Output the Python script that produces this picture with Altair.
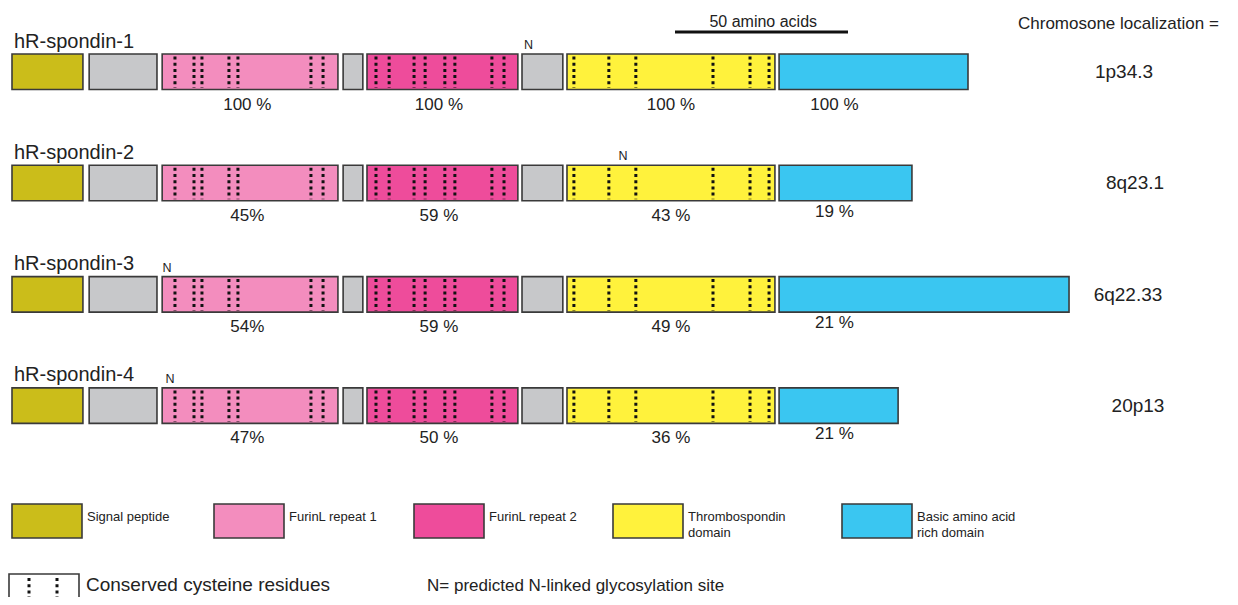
import altair as alt
import pandas as pd

# ---------------- data ----------------
PROTEINS = ["hR-spondin-1", "hR-spondin-2", "hR-spondin-3", "hR-spondin-4"]
CHROMOSOMES = ["1p34.3", "8q23.1", "6q22.33", "20p13"]

DOMAIN_TYPES = ["signal", "linker", "furin1", "linker", "furin2", "linker", "tsp", "basic"]
DOMAIN_START_AA = [0.0, 22.3, 43.4, 95.7, 102.6, 147.4, 160.4, 221.7]
DOMAIN_END_AA = [20.5, 41.9, 94.2, 101.4, 146.2, 159.2, 220.5]   # basic domain end is per protein
BASIC_END_AA = [276.3, 260.1, 305.5, 256.1]

CYS_FURIN1_AA = [47.1, 52.6, 54.9, 62.7, 65.3, 86.4, 89.9]
CYS_FURIN2_AA = [105.2, 109.0, 116.2, 119.4, 125.1, 128.0, 138.7, 142.2]
CYS_TSP_AA = [162.4, 172.5, 180.3, 202.6, 213.3, 218.8]

PCT_FURIN1 = ["100 %", "45%", "54%", "47%"]
PCT_FURIN2 = ["100 %", "59 %", "59 %", "50 %"]
PCT_TSP = ["100 %", "43 %", "49 %", "36 %"]
PCT_BASIC = ["100 %", "19 %", "21 %", "21 %"]

GLYCO_SITE_AA = [149.3, 176.6, 44.8, 45.7]
SCALE_BAR_AA = 50

LEGEND_TYPES = ["signal", "furin1", "furin2", "tsp", "basic"]
LEGEND_LABELS = [["Signal peptide"], ["FurinL repeat 1"], ["FurinL repeat 2"],
                 ["Thrombospondin", "domain"], ["Basic amino acid", "rich domain"]]

COLORS = {"signal": "#CBBD1A", "linker": "#C7C8CA", "furin1": "#F38DBE",
          "furin2": "#EE4C9B", "tsp": "#FFF23C", "basic": "#3AC6F1"}

# ---------------- layout ----------------
FONT = "Liberation Sans, Arial, Helvetica, sans-serif"
W, H = 1222, 589          # chart = page minus 8px margins
PX = 3.46                 # pixels per amino acid
ORIGIN = 12               # page x of amino acid 0
ROW_TOP0, ROW_STEP, BAR_H = 54, 111.3, 35.5
EDGE = "#3a3a3a"
INK = "#222222"


def aa(px):
    return (px - ORIGIN) / PX


xscale = alt.Scale(domain=[aa(8), aa(8) + W / PX], range=[0, W], nice=False, zero=False)
yscale = alt.Scale(domain=[8, 8 + H], range=[0, H], nice=False, zero=False)


def X(f):
    return alt.X(f"{f}:Q", scale=xscale, axis=None)


def X2(f):
    return alt.X2(f"{f}:Q")


def Y(f):
    return alt.Y(f"{f}:Q", scale=yscale, axis=None)


def Y2(f):
    return alt.Y2(f"{f}:Q")


color_enc = alt.Color("type:N", legend=None,
                      scale=alt.Scale(domain=list(COLORS.keys()), range=list(COLORS.values())))

# domain boxes
rows = []
for i, p in enumerate(PROTEINS):
    top = ROW_TOP0 + i * ROW_STEP
    ends = DOMAIN_END_AA + [BASIC_END_AA[i]]
    for t, s, e in zip(DOMAIN_TYPES, DOMAIN_START_AA, ends):
        rows.append({"protein": p, "type": t, "x": s, "x2": e, "y": top, "y2": top + BAR_H})
dom_df = pd.DataFrame(rows)

boxes = alt.Chart(dom_df).mark_rect(stroke=EDGE, strokeWidth=1.6).encode(
    x=X("x"), x2=X2("x2"), y=Y("y"), y2=Y2("y2"), color=color_enc)

# cysteine dotted lines
cys = []
for i, p in enumerate(PROTEINS):
    top = ROW_TOP0 + i * ROW_STEP
    for c in CYS_FURIN1_AA + CYS_FURIN2_AA + CYS_TSP_AA:
        cys.append({"x": c, "y": top + 2.5, "y2": top + BAR_H - 1.5})
cys_df = pd.DataFrame(cys)
cys_rules = alt.Chart(cys_df).mark_rule(color="#111111", strokeWidth=3, strokeDash=[3, 3.2]).encode(
    x=X("x"), y=Y("y"), y2=Y2("y2"))


def text_layer(df, size, align="left", color=INK):
    return alt.Chart(df).mark_text(align=align, baseline="alphabetic", fontSize=size,
                                   font=FONT, color=color).encode(
        x=X("x"), y=Y("y"), text="text:N")


# protein names
name_df = pd.DataFrame([{"x": aa(14), "y": ROW_TOP0 + i * ROW_STEP - 6.5, "text": p}
                        for i, p in enumerate(PROTEINS)])
names = text_layer(name_df, 20)

# percent identity labels
pct = []
for i in range(len(PROTEINS)):
    bottom = ROW_TOP0 + i * ROW_STEP + BAR_H
    pct.append({"x": (DOMAIN_START_AA[2] + DOMAIN_END_AA[2]) / 2 - 0.8, "y": bottom + 20, "text": PCT_FURIN1[i]})
    pct.append({"x": (DOMAIN_START_AA[4] + DOMAIN_END_AA[4]) / 2 - 1.0, "y": bottom + 20, "text": PCT_FURIN2[i]})
    pct.append({"x": (DOMAIN_START_AA[6] + DOMAIN_END_AA[6]) / 2, "y": bottom + 20, "text": PCT_TSP[i]})
    pct.append({"x": DOMAIN_START_AA[7] + 16, "y": bottom + (20 if i == 0 else 16), "text": PCT_BASIC[i]})
pct_df = pd.DataFrame(pct)
pcts = text_layer(pct_df, 17, align="center")

# glycosylation sites
n_df = pd.DataFrame([{"x": g, "y": ROW_TOP0 + i * ROW_STEP - 5, "text": "N"}
                     for i, g in enumerate(GLYCO_SITE_AA)])
glyco = text_layer(n_df, 12.5, align="center")

# chromosome localisation
CHROM_X = [1124, 1135, 1128, 1138]
chrom_df = pd.DataFrame([{"x": aa(CHROM_X[i]), "y": ROW_TOP0 + i * ROW_STEP + 24, "text": c}
                         for i, c in enumerate(CHROMOSOMES)])
chroms = text_layer(chrom_df, 19, align="center")

title_df = pd.DataFrame([{"x": aa(1018), "y": 29, "text": "Chromosone localization ="}])
title = text_layer(title_df, 17)

# scale bar
bar_start = aa(675)
sb_df = pd.DataFrame([{"x": bar_start, "x2": bar_start + SCALE_BAR_AA, "y": 32}])
scale_bar = alt.Chart(sb_df).mark_rule(color="#111111", strokeWidth=3).encode(
    x=X("x"), x2=X2("x2"), y=Y("y"))
sb_text_df = pd.DataFrame([{"x": bar_start + SCALE_BAR_AA / 2 + 0.5, "y": 27, "text": "50 amino acids"}])
scale_text = text_layer(sb_text_df, 16, align="center")

# colour legend
LEG_X = [12, 214, 414, 613, 842]
leg_rows, leg_txt = [], []
for t, lx, labels in zip(LEGEND_TYPES, LEG_X, LEGEND_LABELS):
    leg_rows.append({"type": t, "x": aa(lx), "x2": aa(lx + 70), "y": 504, "y2": 538})
    for k, lab in enumerate(labels):
        leg_txt.append({"x": aa(lx + 75), "y": 521 + 16 * k, "text": lab})
leg_df = pd.DataFrame(leg_rows)
leg_boxes = alt.Chart(leg_df).mark_rect(stroke=EDGE, strokeWidth=1.6).encode(
    x=X("x"), x2=X2("x2"), y=Y("y"), y2=Y2("y2"), color=color_enc)
leg_text = text_layer(pd.DataFrame(leg_txt), 13)

# cysteine / glycosylation key
cbox_df = pd.DataFrame([{"x": aa(9), "x2": aa(79), "y": 574, "y2": 640}])
cbox = alt.Chart(cbox_df).mark_rect(fill="white", stroke=EDGE, strokeWidth=1.6).encode(
    x=X("x"), x2=X2("x2"), y=Y("y"), y2=Y2("y2"))
ckey_df = pd.DataFrame([{"x": aa(29), "y": 578, "y2": 640}, {"x": aa(57), "y": 578, "y2": 640}])
ckey = alt.Chart(ckey_df).mark_rule(color="#111111", strokeWidth=3, strokeDash=[3, 3.2]).encode(
    x=X("x"), y=Y("y"), y2=Y2("y2"))
key_txt = pd.DataFrame([{"x": aa(86), "y": 591, "text": "Conserved cysteine residues"}])
key_text = text_layer(key_txt, 19)
n_txt = pd.DataFrame([{"x": aa(427), "y": 591, "text": "N= predicted N-linked glycosylation site"}])
n_text = text_layer(n_txt, 17)

chart = alt.layer(
    boxes, cys_rules, names, pcts, glyco, chroms, title, scale_bar, scale_text,
    leg_boxes, leg_text, cbox, ckey, key_text, n_text
).properties(
    width=W, height=H, padding=0, autosize=alt.AutoSizeParams(type="none")
).configure(background="white").configure_view(stroke=None, strokeWidth=0)

chart.save("out.html", embed_options={"renderer": "svg", "actions": False})
